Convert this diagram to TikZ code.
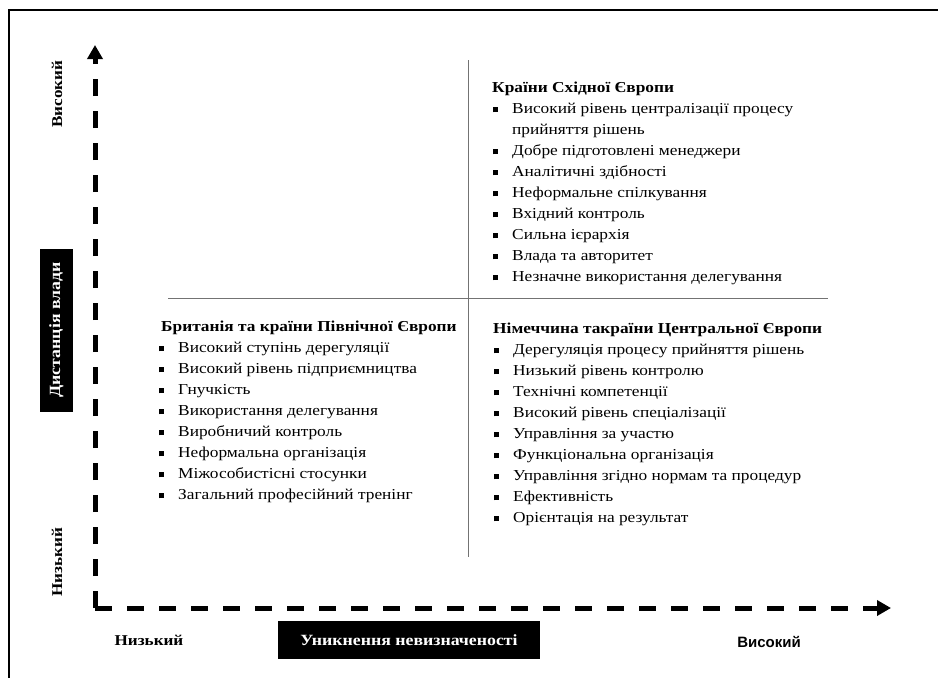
\documentclass[tikz,border=0pt]{standalone}
\usepackage{fontspec}
\setmainfont{Liberation Serif}[FakeStretch=1.14]
\newfontfamily\sansf{Liberation Sans}
\usetikzlibrary{arrows.meta}
\newcommand{\blt}{\raisebox{1.6pt}{\rule{5pt}{5pt}}}
\newcommand{\itm}[1]{\makebox[20pt][l]{\hspace{1pt}\blt}#1}
\begin{document}
\begin{tikzpicture}[x=1pt,y=-1pt,
  axisline/.style={line width=5pt, dash pattern=on 17pt off 15pt, -{Triangle[length=14pt,width=15pt]}},
  quadline/.style={draw=black!55, line width=1pt},
  blocktext/.style={anchor=north west, inner sep=0pt, font=\fontsize{15.2}{21}\selectfont},
  axlabel/.style={inner sep=0pt, font=\bfseries\fontsize{15}{15}\selectfont},
  axbox/.style={fill=black, text=white, inner sep=0pt, font=\bfseries\fontsize{15.6}{15.6}\selectfont}]
\useasboundingbox (0,0) rectangle (938,678);
% frame
\draw[line width=1.6pt] (9,678) -- (9,10) -- (938,10);
% axes
\coordinate (corner) at (95,608);
\coordinate (ytip) at (95,45);
\coordinate (xtip) at (891,608);
\draw[axisline] (corner) -- (ytip);
\draw[axisline] (corner) -- (xtip);
% quadrant lines
\coordinate (vt) at (468,60);
\coordinate (vb) at (468,557);
\coordinate (hl) at (168,298);
\coordinate (hr) at (828,298);
\draw[quadline] (vt) -- (vb);
\draw[quadline] (hl) -- (hr);
% axis labels
\node[axlabel, rotate=90] (yhi) at (57,94) {Високий};
\node[axbox, rotate=90, minimum width=163pt, minimum height=33pt] (ylab) at (56.5,330) {Дистанція влади};
\node[axlabel, rotate=90] (ylo) at (57,562) {Низький};
\node[axlabel] (xlo) at (149,640) {Низький};
\node[axbox, minimum width=262pt, minimum height=38pt] (xlab) at (409,640) {Уникнення невизначеності};
\node[inner sep=0pt, font=\sansf\bfseries\fontsize{15}{15}\selectfont] (xhi) at (769,642) {Високий};
% quadrant texts
\node[blocktext] (tr) at (492,78) {\begin{tabular}{@{}l@{}}
\textbf{Країни Східної Європи}\\
\itm{Високий рівень централізації процесу}\\
\hspace{20pt}прийняття рішень\\
\itm{Добре підготовлені менеджери}\\
\itm{Аналітичні здібності}\\
\itm{Неформальне спілкування}\\
\itm{Вхідний контроль}\\
\itm{Сильна ієрархія}\\
\itm{Влада та авторитет}\\
\itm{Незначне використання делегування}
\end{tabular}};
\node[blocktext] (bl) at (158,317) {\begin{tabular}{@{}l@{}}
\hspace{3pt}\textbf{Британія та країни Північної Європи}\\
\itm{Високий ступінь дерегуляції}\\
\itm{Високий рівень підприємництва}\\
\itm{Гнучкість}\\
\itm{Використання делегування}\\
\itm{Виробничий контроль}\\
\itm{Неформальна організація}\\
\itm{Міжособистісні стосунки}\\
\itm{Загальний професійний тренінг}
\end{tabular}};
\node[blocktext] (br) at (493,319) {\begin{tabular}{@{}l@{}}
\textbf{Німеччина такраїни Центральної Європи}\\
\itm{Дерегуляція процесу прийняття рішень}\\
\itm{Низький рівень контролю}\\
\itm{Технічні компетенції}\\
\itm{Високий рівень спеціалізації}\\
\itm{Управління за участю}\\
\itm{Функціональна організація}\\
\itm{Управління згідно нормам та процедур}\\
\itm{Ефективність}\\
\itm{Орієнтація на результат}
\end{tabular}};
\end{tikzpicture}
\end{document}
